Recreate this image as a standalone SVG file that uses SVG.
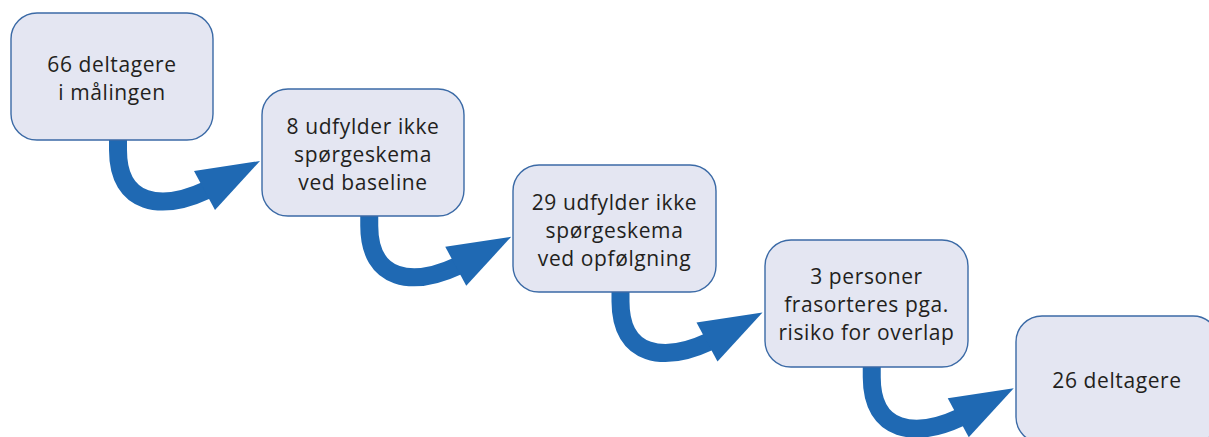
<svg xmlns="http://www.w3.org/2000/svg" width="1209" height="437" viewBox="0 0 1209 437">
<style>
.box{fill:#e4e6f2;stroke:#3b6aa6;stroke-width:1.4}
.lbl{font-family:"Open Sans","Liberation Sans",sans-serif;font-size:21px;letter-spacing:0.6px;fill:#231f20;text-anchor:middle}
.shaft{fill:none;stroke:#1f69b3;stroke-width:18}
.head{fill:#1f69b3}
</style>
<defs>
<g id="arrowShape">
<path class="shaft" d="M118,138 L118,150 C118,206 162,211 207,190"/>
<polygon class="head" points="260,161 194,171 215,210"/>
</g>
</defs>
<rect width="1209" height="437" fill="#ffffff"/>
<g id="connectors">
<use href="#arrowShape"/>
<use href="#arrowShape" transform="translate(251.25,75.75)"/>
<use href="#arrowShape" transform="translate(502.5,151.5)"/>
<use href="#arrowShape" transform="translate(753.75,227.25)"/>
</g>
<g id="node1">
<rect class="box" x="11" y="13" width="202" height="127" rx="26"/>
<text class="lbl" x="112" y="72">66 deltagere</text>
<text class="lbl" x="112" y="100">i målingen</text>
</g>
<g id="node2">
<rect class="box" x="262" y="89" width="202" height="127" rx="26"/>
<text class="lbl" x="363" y="134">8 udfylder ikke</text>
<text class="lbl" x="363" y="162">spørgeskema</text>
<text class="lbl" x="363" y="190">ved baseline</text>
</g>
<g id="node3">
<rect class="box" x="513" y="165" width="203" height="127" rx="26"/>
<text class="lbl" x="614.5" y="210">29 udfylder ikke</text>
<text class="lbl" x="614.5" y="238">spørgeskema</text>
<text class="lbl" x="614.5" y="266">ved opfølgning</text>
</g>
<g id="node4">
<rect class="box" x="765" y="240" width="203" height="127" rx="26"/>
<text class="lbl" x="866.5" y="284">3 personer</text>
<text class="lbl" x="866.5" y="312">frasorteres pga.</text>
<text class="lbl" x="866.5" y="340">risiko for overlap</text>
</g>
<g id="node5">
<rect class="box" x="1016" y="316" width="203" height="127" rx="26"/>
<text class="lbl" x="1117" y="388">26 deltagere</text>
</g>
</svg>
